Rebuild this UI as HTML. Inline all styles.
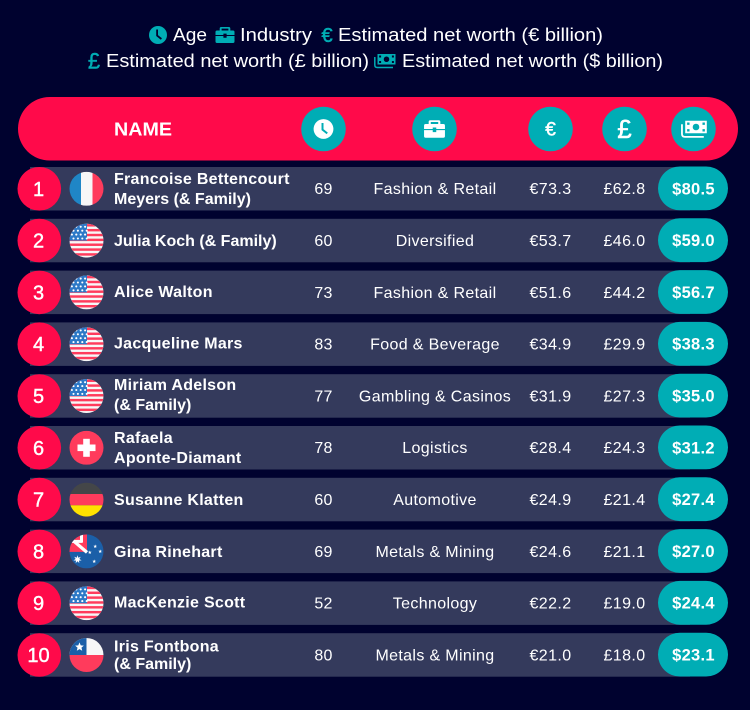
<!DOCTYPE html>
<html lang="en">
<head>
<meta charset="utf-8">
<title>Richest women</title>
<style>
html,body{margin:0;padding:0;background:#00022f;}
svg{display:block;}
text{font-family:"Liberation Sans",sans-serif;}
</style>
</head>
<body>
<svg id="chart" xmlns="http://www.w3.org/2000/svg" width="750" height="710" viewBox="0 0 750 710">
  <rect x="0" y="0" width="750" height="710" fill="#00022f"/>
  <defs>
    <g id="ic-clock"><circle cx="0" cy="0" r="9" fill="currentColor"/><path d="M-0.9-5.5V0.6L3.4 4" fill="none" stroke="var(--k)" stroke-width="1.8"/></g>
    <g id="ic-case"><path fill="currentColor" d="M-3.8-8H3.8A1.5 1.5 0 0 1 5.3-6.5V-4.5H8A1.5 1.5 0 0 1 9.5-3V0H1.6V-1.4H-1.6V0H-9.5V-3A1.5 1.5 0 0 1-8-4.5H-5.3V-6.5A1.5 1.5 0 0 1-3.8-8ZM-3.4-6.4V-4.5H3.4V-6.4ZM-9.5 1H-1.6V2.8H1.6V1H9.5V6.5A1.5 1.5 0 0 1 8 8H-8A1.5 1.5 0 0 1-9.5 6.5Z"/></g>
    <g id="ic-money"><path fill="currentColor" fill-rule="evenodd" d="M-6.5-6.5H11.5V4H-6.5ZM2.5-4A2.75 2.75 0 1 0 2.5 1.5A2.75 2.75 0 1 0 2.5-4ZM-4.9-5V-3H-2.9V-5ZM7.9-5V-3H9.9V-5ZM-4.9 0.5V2.5H-2.9V0.5ZM7.9 0.5V2.5H9.9V0.5Z"/><path d="M-9.2-3.5V4.5Q-9.2 7-6.7 7H9" fill="none" stroke="currentColor" stroke-width="1.5"/></g>
    <clipPath id="flag-clip"><circle cx="0" cy="0" r="17"/></clipPath>
  </defs>

  <g>
    <use href="#ic-clock" transform="translate(158 35)" color="#00adb5" style="--k:#00022f"/>
    <text x="173" y="41" font-size="18" fill="#fff" textLength="34" lengthAdjust="spacingAndGlyphs">Age</text>
    <use href="#ic-case" transform="translate(225 35)" color="#00adb5"/>
    <text x="240" y="41" font-size="18" fill="#fff" textLength="72" lengthAdjust="spacingAndGlyphs">Industry</text>
    <text x="327" y="42" font-size="20" text-anchor="middle" fill="#00adb5" stroke="#00adb5" stroke-width="0.5">€</text>
    <text x="338" y="41" font-size="18" fill="#fff" textLength="265" lengthAdjust="spacingAndGlyphs">Estimated net worth (€ billion)</text>
    <text x="94" y="68.5" font-size="22" text-anchor="middle" fill="#00adb5" stroke="#00adb5" stroke-width="0.4">£</text>
    <text x="106" y="67" font-size="18" fill="#fff" textLength="263" lengthAdjust="spacingAndGlyphs">Estimated net worth (£ billion)</text>
    <use href="#ic-money" transform="translate(384 60.5)" color="#00adb5"/>
    <text x="402" y="67" font-size="18" fill="#fff" textLength="261" lengthAdjust="spacingAndGlyphs">Estimated net worth ($ billion)</text>
  </g>

  <g>
    <rect x="18" y="97" width="720" height="63.5" rx="31.7" fill="#ff0a4a"/>
    <text x="114" y="135.5" font-size="18" font-weight="700" fill="#fff" textLength="58" lengthAdjust="spacingAndGlyphs">NAME</text>
    <circle cx="323.5" cy="129" r="22.3" fill="#00adb5"/>
    <use href="#ic-clock" transform="translate(323.5 129) scale(1.1)" color="#fff" style="--k:#00adb5"/>
    <circle cx="434.5" cy="129" r="22.3" fill="#00adb5"/>
    <use href="#ic-case" transform="translate(434.5 129) scale(1.1)" color="#fff"/>
    <circle cx="550.5" cy="129" r="22.3" fill="#00adb5"/>
    <text x="550.5" y="135.5" font-size="19" text-anchor="middle" fill="#fff" stroke="#fff" stroke-width="0.5">€</text>
    <circle cx="624.5" cy="129" r="22.3" fill="#00adb5"/>
    <text x="624.5" y="138" font-size="26" text-anchor="middle" fill="#fff" stroke="#fff" stroke-width="0.5">£</text>
    <circle cx="693.5" cy="129" r="22.3" fill="#00adb5"/>
    <use href="#ic-money" transform="translate(693 128.5) scale(1.2)" color="#fff"/>
  </g>

  <g id="rows"></g>
</svg>

<script>
var names = [
  ["Francoise Bettencourt", "Meyers (& Family)"],
  ["Julia Koch (& Family)"],
  ["Alice Walton"],
  ["Jacqueline Mars"],
  ["Miriam Adelson", "(& Family)"],
  ["Rafaela", "Aponte-Diamant"],
  ["Susanne Klatten"],
  ["Gina Rinehart"],
  ["MacKenzie Scott"],
  ["Iris Fontbona", "(& Family)"]
];
var countries = ["france", "usa", "usa", "usa", "usa", "switzerland", "germany", "australia", "usa", "chile"];
var ages = [69, 60, 73, 83, 77, 78, 60, 69, 52, 80];
var industries = ["Fashion & Retail", "Diversified", "Fashion & Retail", "Food & Beverage", "Gambling & Casinos", "Logistics", "Automotive", "Metals & Mining", "Technology", "Metals & Mining"];
var euroWorth = [73.3, 53.7, 51.6, 34.9, 31.9, 28.4, 24.9, 24.6, 22.2, 21.0];
var poundWorth = [62.8, 46.0, 44.2, 29.9, 27.3, 24.3, 21.4, 21.1, 19.0, 18.0];
var dollarWorth = [80.5, 59.0, 56.7, 38.3, 35.0, 31.2, 27.4, 27.0, 24.4, 23.1];

var NS = 'http://www.w3.org/2000/svg';
var rowsRoot = document.getElementById('rows');

function rowTop(i) { return 167 + i * 51.8; }

function make(tag, attrs, parent) {
  var el = document.createElementNS(NS, tag);
  for (var k in attrs) el.setAttribute(k, attrs[k]);
  parent.appendChild(el);
  return el;
}

function starPath(cx, cy, R, points) {
  var d = '';
  for (var p = 0; p < points * 2; p++) {
    var rad = p % 2 ? R * 0.45 : R;
    var ang = -Math.PI / 2 + p * Math.PI / points;
    d += (p ? 'L' : 'M') + (cx + rad * Math.cos(ang)).toFixed(2) + ' ' + (cy + rad * Math.sin(ang)).toFixed(2);
  }
  return d + 'Z';
}

function drawFlag(kind, g) {
  var r = function (x, y, w, h, fill) { make('rect', { x: x, y: y, width: w, height: h, fill: fill }, g); };
  if (kind === 'france') {
    r(-17, -17, 11.5, 34, '#1f86c6'); r(-5.5, -17, 11.5, 34, '#f7f7f7'); r(6, -17, 11, 34, '#ff3b5c');
  } else if (kind === 'usa') {
    r(-17, -17, 34, 34, '#f7f7f7');
    for (var s = 0; s < 7; s++) r(-17, -16.5 + s * 4.85, 34, 2.45, '#ff3b5c');
    r(-17, -17, 17.5, 17, '#2d79c7');
    for (var a = 0; a < 4; a++) {
      for (var b = 0; b < 4; b++) {
        make('circle', { cx: -14.6 + b * 4.4 + (a % 2) * 1.6, cy: -13.8 + a * 3.9, r: 1.05, fill: '#fff' }, g);
      }
    }
  } else if (kind === 'switzerland') {
    r(-17, -17, 34, 34, '#ff3b5c'); r(-3.3, -9, 6.6, 18, '#fff'); r(-9, -3.3, 18, 6.6, '#fff');
  } else if (kind === 'germany') {
    r(-17, -17, 34, 11.4, '#444648'); r(-17, -5.6, 34, 11.3, '#ff3b5c'); r(-17, 5.7, 34, 11.3, '#ffe100');
  } else if (kind === 'australia') {
    r(-17, -17, 34, 34, '#1b5fa8');
    r(-17, -17, 17.5, 17.5, '#ff3b5c');
    r(-17, -11.5, 13, 3, '#fff');
    r(-6.5, -17, 3, 8, '#fff');
    make('path', { d: 'M-13-10.5L0.5 1', stroke: '#fff', 'stroke-width': 3.2, fill: 'none' }, g);
    make('path', { d: starPath(-9, 8, 4.2, 7), fill: '#fff' }, g);
    var stars = [[3.3, 1], [8.7, -5], [13.7, 0], [7.7, 10]];
    stars.forEach(function (st) { make('path', { d: starPath(st[0], st[1], 1.9, 5), fill: '#fff' }, g); });
  } else if (kind === 'chile') {
    r(-17, -17, 34, 17, '#f7f7f7'); r(-17, -17, 17, 17, '#1b5fa8'); r(-17, 0, 34, 17, '#ff3b5c');
    make('path', { d: starPath(-7, -8, 4.6, 5), fill: '#fff' }, g);
  }
}

function label(parent, x, y, str, size, weight, anchor, name, spacing) {
  var t = make('text', { x: x, y: y, 'font-size': size, 'font-weight': weight, 'text-anchor': anchor, fill: '#fff', 'letter-spacing': spacing }, parent);
  t.textContent = str;
  
  
  return t;
}

function nameShift(i) {
  if (i === 2 || i === 3 || i === 8) return -1;
  if (i === 4) return -1.5;
  return 0;
}

function nameSpacing(str) {
  return str.indexOf('(&') >= 0 ? 0 : 0.28;
}

names.forEach(function (lines, i) {
  var top = rowTop(i);
  var mid = top + 21.8;
  var row = make('g', {}, rowsRoot);
  
  

  var bar = make('rect', { x: 30, y: top, width: 660, height: 43.5, fill: '#343a5c' }, row);
  
  

  var badge = make('circle', { cx: 39.3, cy: mid, r: 21.8, fill: '#ff0a4a' }, row);
  
  
  var rank = label(row, 38.5, mid + 7, String(i + 1), 20, 400, 'middle', 'rank-number', 0);
  rank.setAttribute('stroke', '#fff');
  rank.setAttribute('stroke-width', '0.4');

  var flag = make('g', { transform: 'translate(86.5 ' + mid + ')', 'clip-path': 'url(#flag-clip)' }, row);
  
  
  drawFlag(countries[i], flag);

  var shift = nameShift(i);
  if (lines.length === 2) {
    var lastGap = i === 9 ? 17.5 : 20;
    var firstY = mid - 4.7 + shift + (i === 9 ? 1 : 0);
    label(row, 114, firstY, lines[0], 16, 700, 'start', 'person-name-line-1', nameSpacing(lines[0]));
    label(row, 114, firstY + lastGap, lines[1], 16, 700, 'start', 'person-name-line-2', nameSpacing(lines[1]));
  } else {
    label(row, 114, mid + 5.4 + shift, lines[0], 16, 700, 'start', 'person-name', nameSpacing(lines[0]));
  }

  label(row, 323.5, mid + 5.4, String(ages[i]), 16, 400, 'middle', 'age-value', 0.2);
  label(row, 435, mid + 5.4, industries[i], 16, 400, 'middle', 'industry-value', 0.35);
  label(row, 550.5, mid + 5.4, '€' + euroWorth[i].toFixed(1), 16, 400, 'middle', 'euro-value', 0.4);
  label(row, 624.5, mid + 5.4, '£' + poundWorth[i].toFixed(1), 16, 400, 'middle', 'pound-value', 0.4);

  var pill = make('rect', { x: 658, y: top - 0.5, width: 70, height: 43.8, rx: 21.9, fill: '#00adb5' }, row);
  
  
  label(row, 693.5, mid + 5.5, '$' + dollarWorth[i].toFixed(1), 16.5, 700, 'middle', 'dollar-value', 0.3);
});
</script>
</body>
</html>
